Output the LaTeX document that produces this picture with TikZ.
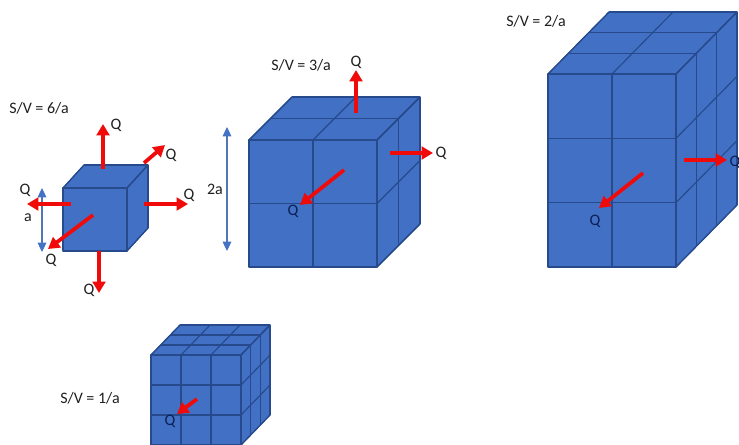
\documentclass[tikz,border=0pt]{standalone}
\usepackage{fontspec}
\setmainfont{Carlito}
\usepackage{xcolor}
\usetikzlibrary{arrows.meta}
\definecolor{cubecolor}{HTML}{4170C4}
\definecolor{edgecolor}{HTML}{264A8C}
\definecolor{flowcolor}{HTML}{F00A0A}
\definecolor{sizecolor}{HTML}{4472C4}
\definecolor{oncolor}{HTML}{0B1F55}
\definecolor{textcolor}{HTML}{202020}
\tikzset{
  facefill/.style={fill=cubecolor,draw=edgecolor,line width=0.85pt,line join=round},
  gridline/.style={draw=edgecolor,line width=0.85pt},
  flowarrow/.style={draw=flowcolor,line width=2.8pt,-{Triangle[length=8.5pt,width=9.5pt]}},
  sizearrow/.style={draw=sizecolor!75!gray,line width=0.8pt,{Triangle[length=7pt,width=6.5pt,color=sizecolor]}-{Triangle[length=7pt,width=6.5pt,color=sizecolor]}},
  lbl/.style={font=\fontsize{12}{14}\selectfont,text=textcolor,inner sep=0pt},
  qoff/.style={lbl},
  qon/.style={lbl,text=oncolor}
}
% x y w h dx dy nx ny nz
\newcommand{\gridcube}[9]{
  \filldraw[facefill] (#1,#2) -- ++(#3,0) -- ++(0,#4) -- ++(-#3,0) -- cycle;
  \filldraw[facefill] (#1,#2) -- ++(#5,#6) -- ++(#3,0) -- ++(-#5,-#6) -- cycle;
  \filldraw[facefill] ({#1+#3},#2) -- ++(#5,#6) -- ++(0,#4) -- ++(-#5,-#6) -- cycle;
  \foreach \k in {0,...,#7} {
    \draw[gridline] ({#1+\k*#3/#7},#2) -- ++(0,#4);
    \draw[gridline] ({#1+\k*#3/#7},#2) -- ++(#5,#6);
  }
  \foreach \k in {0,...,#8} {
    \draw[gridline] (#1,{#2+\k*#4/#8}) -- ++(#3,0);
    \draw[gridline] ({#1+#3},{#2+\k*#4/#8}) -- ++(#5,#6);
  }
  \foreach \k in {0,...,#9} {
    \draw[gridline] ({#1+\k*#5/#9},{#2+\k*#6/#9}) -- ++(#3,0);
    \draw[gridline] ({#1+#3+\k*#5/#9},{#2+\k*#6/#9}) -- ++(0,#4);
  }
}
\begin{document}
\begin{tikzpicture}[x=0.75pt,y=-0.75pt]
  \clip (0,0) rectangle (739,444);
  \fill[white] (0,0) rectangle (739,444);

  \gridcube{63}{188}{64}{63}{21}{-23}{1}{1}{1}
  \gridcube{249}{140}{128}{127}{43}{-43}{2}{2}{2}
  \gridcube{548}{74}{128}{193}{61}{-62}{2}{3}{3}
  \gridcube{151}{355}{90}{90}{29}{-30}{3}{3}{3}

  \foreach \n/\x/\y/\t in {ratioa/39/108/6,ratiob/301/65/3,ratioc/536/21/2,ratiod/90/398/1} {
    \node[lbl] (\n) at (\x,\y) {S/V = \t/a};
  }
  \node[lbl] (lena) at (28,218) {a};
  \node[lbl] (lenb) at (215,189) {2a};

  \coordinate (atop) at (42,188);
  \coordinate (abot) at (42,252);
  \coordinate (btop) at (227,127);
  \coordinate (bbot) at (227,251);
  \draw[sizearrow] (atop) -- (abot);
  \draw[sizearrow] (btop) -- (bbot);

  \foreach \i/\sx/\sy/\ex/\ey/\qx/\qy/\s in {
      1/103/169/103/124/116/125/qoff, 2/144/163/165/145/171/155/qoff,
      3/144/204/188/204/189/195/qoff, 4/71/204/27/204/25/190/qoff,
      5/93/215/48/249/51/260/qoff, 6/99/251/99/293/89/290/qoff,
      7/356/113/356/70/356/62/qoff, 8/390/153/433/153/441/153/qoff,
      9/344/170/300/205/293/211/qon, 10/684/160/727/160/735/162/qon,
      11/643/173/599/208/595/221/qon, 12/197/399/177/414/170/421/qon} {
    \coordinate (from\i) at (\sx,\sy);
    \coordinate (to\i) at (\ex,\ey);
    \draw[flowarrow] (from\i) -- (to\i);
    \node[\s] (q\i) at (\qx,\qy) {Q};
  }
\end{tikzpicture}
\end{document}
